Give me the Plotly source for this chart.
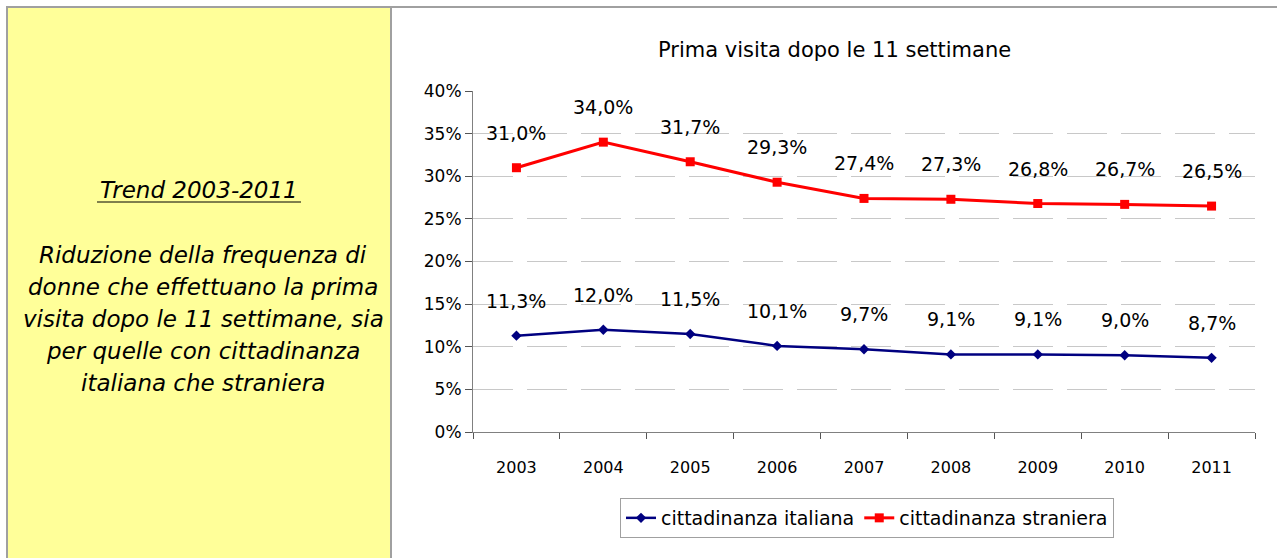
import plotly.graph_objects as go

years = ["2003", "2004", "2005", "2006", "2007", "2008", "2009", "2010", "2011"]
italiana = [11.3, 12.0, 11.5, 10.1, 9.7, 9.1, 9.1, 9.0, 8.7]
straniera = [31.0, 34.0, 31.7, 29.3, 27.4, 27.3, 26.8, 26.7, 26.5]
y_ticks = [0, 5, 10, 15, 20, 25, 30, 35, 40]
y_tick_labels = [f"{v}%" for v in y_ticks]
title_text = "Prima visita dopo le 11 settimane"
side_title = "Trend 2003-2011"
side_lines = ["Riduzione della frequenza di", "donne che effettuano la prima",
              "visita dopo le 11 settimane, sia", "per quelle con cittadinanza",
              "italiana che straniera"]

W, H = 1277, 558
CF = "DejaVu Sans"

def px(x):
    return x / W

def py(y):
    return 1 - y / H

fig = go.Figure()
fig.add_trace(go.Scatter(x=years, y=italiana, mode="lines+markers", name="cittadinanza italiana",
                         line=dict(color="#000080", width=2.5),
                         marker=dict(symbol="diamond", size=8, color="#000080")))
fig.add_trace(go.Scatter(x=years, y=straniera, mode="lines+markers", name="cittadinanza straniera",
                         line=dict(color="#FF0000", width=3),
                         marker=dict(symbol="square", size=9, color="#FF0000")))

annotations = []
for series in (italiana, straniera):
    for i, v in enumerate(series):
        annotations.append(dict(x=i, y=v, xref="x", yref="y", text=f"{v:.1f}%".replace(".", ","),
                                showarrow=False, yshift=35, xanchor="center", yanchor="middle",
                                font=dict(family=CF, size=19, color="black")))

annotations.append(dict(x=px(199), y=py(190), xref="paper", yref="paper", showarrow=False,
                        xanchor="center", yanchor="middle",
                        text=f"<i>{side_title}</i>", font=dict(family="DejaVu Sans", size=23, color="black")))
for i, line in enumerate(side_lines):
    annotations.append(dict(x=px(203), y=py(255 + 32 * i), xref="paper", yref="paper", showarrow=False,
                            xanchor="center", yanchor="middle",
                            text=f"<i>{line}</i>", font=dict(family="DejaVu Sans", size=23, color="black")))
annotations.append(dict(x=px(835), y=py(50), xref="paper", yref="paper", showarrow=False,
                        xanchor="center", yanchor="middle",
                        text=title_text, font=dict(family=CF, size=21, color="black")))

shapes = [
    dict(type="rect", xref="paper", yref="paper", x0=px(7), x1=px(391), y0=0, y1=py(7),
         fillcolor="#FFFF99", line=dict(width=0), layer="below"),
    dict(type="line", xref="paper", yref="paper", x0=px(7), x1=px(7), y0=0, y1=py(6),
         line=dict(color="#A0A0A0", width=2)),
    dict(type="line", xref="paper", yref="paper", x0=px(391), x1=px(391), y0=0, y1=py(6),
         line=dict(color="#A0A0A0", width=2)),
    dict(type="line", xref="paper", yref="paper", x0=px(6), x1=1, y0=py(7), y1=py(7),
         line=dict(color="#A0A0A0", width=2)),
    dict(type="line", xref="paper", yref="paper", x0=px(97), x1=px(301), y0=py(202), y1=py(202),
         line=dict(color="black", width=1)),
]

fig.update_layout(
    width=W, height=H, margin=dict(l=0, r=0, t=0, b=0, pad=0, autoexpand=False),
    paper_bgcolor="white", plot_bgcolor="white",
    showlegend=True,
    legend=dict(orientation="h", x=px(867), y=py(518), xanchor="center", yanchor="middle",
                bordercolor="#A0A0A0", borderwidth=1, bgcolor="white",
                font=dict(family=CF, size=19, color="black"), itemwidth=30),
    annotations=annotations, shapes=shapes,
    xaxis=dict(domain=[px(473), px(1255)], type="category", range=[-0.5, 8.5],
               tickson="boundaries", ticks="outside", ticklen=6, tickcolor="#555555",
               showline=True, linecolor="#808080", linewidth=1, showgrid=False,
               tickfont=dict(family=CF, size=16, color="black"), ticklabelstandoff=21),
    yaxis=dict(domain=[py(432), py(91)], range=[0, 40], tickvals=y_ticks, ticktext=y_tick_labels,
               ticks="outside", ticklen=7, tickcolor="#555555",
               showline=True, linecolor="#808080", linewidth=1,
               showgrid=True, gridcolor="#C8C8C8", griddash="40px,14px", gridwidth=1,
               zeroline=False, tickfont=dict(family=CF, size=17, color="black")),
)

fig.write_html("out.html", config={"displayModeBar": False},
               post_script="document.body.style.margin='0';document.body.style.overflow='hidden';")
